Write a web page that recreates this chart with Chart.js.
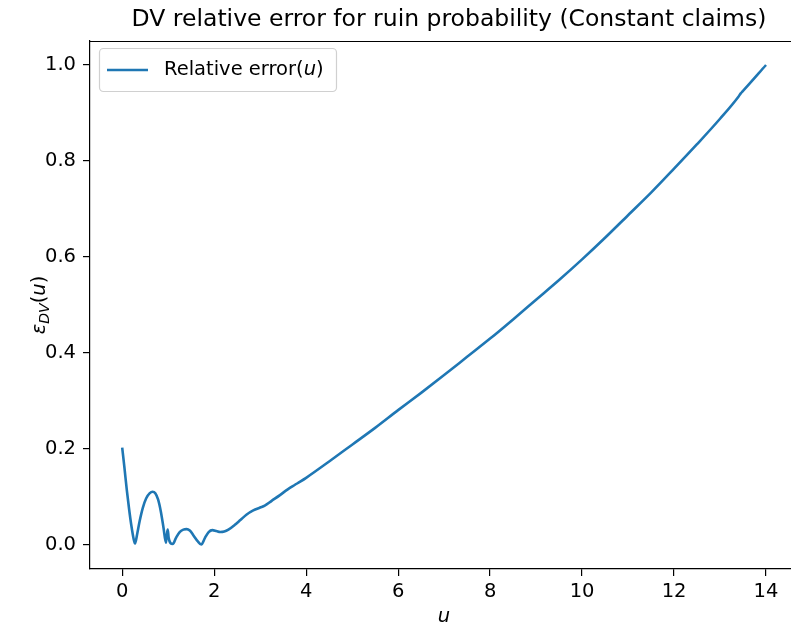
<!DOCTYPE html>
<html lang="en">
<head>
    <meta charset="UTF-8">
    <title>DV relative error for ruin probability</title>
    <script src="https://cdn.jsdelivr.net/npm/chart.js"></script>
    <style>
        body {
            margin: 0;
            background: white;
        }
        #wrap {
            width: 791px;
            height: 629px;
        }
    </style>
</head>
<body>
    <div id="wrap"><canvas id="errChart" width="791" height="629"></canvas></div>

    <script>
        // values
        const uValues = [
            0, 0.05, 0.1, 0.15, 0.2, 0.25, 0.28, 0.32, 0.38, 0.45, 0.52, 0.6, 0.66, 0.72, 0.78, 0.84, 0.9, 0.95,
            0.97, 0.99, 1.01, 1.05, 1.1, 1.17, 1.25, 1.33, 1.4, 1.47, 1.55, 1.64, 1.72, 1.8, 1.88, 1.96,
            2.05, 2.13, 2.22, 2.31, 2.45, 2.57, 2.7, 2.85, 3.0, 3.1, 3.25, 3.43, 3.6, 3.75, 3.87, 4.0,
            4.5, 5, 5.5, 6, 6.5, 7, 7.5, 8, 8.5, 9, 9.5, 10, 10.5, 11, 11.5, 12, 12.5, 13, 13.4, 13.45, 13.5, 14
        ];
        const errValues = [
            0.203, 0.16, 0.115, 0.075, 0.04, 0.012, 0.003, 0.02, 0.05, 0.078, 0.097, 0.108, 0.111, 0.108, 0.095, 0.07, 0.035, 0.005,
            0.02, 0.032, 0.015, 0.004, 0.002, 0.015, 0.027, 0.032, 0.033, 0.03, 0.02, 0.008, 0.001, 0.015, 0.027, 0.031,
            0.029, 0.027, 0.028, 0.032, 0.042, 0.052, 0.063, 0.072, 0.078, 0.082, 0.092, 0.104, 0.116, 0.125, 0.132, 0.14,
            0.174, 0.209, 0.244, 0.281, 0.317, 0.354, 0.392, 0.43, 0.47, 0.511, 0.552, 0.595, 0.64, 0.687, 0.734, 0.784, 0.835, 0.888, 0.934, 0.941, 0.946, 1.0
        ];
        const xTicks = [0, 2, 4, 6, 8, 10, 12, 14];
        const yTicks = [0, 0.2, 0.4, 0.6, 0.8, 1.0];

        const FONT = "'DejaVu Sans', sans-serif";
        const BLUE = '#1f77b4';

        // title, axis labels, legend and top spine
        const extras = {
            id: 'extras',
            afterDraw(chart) {
                const ctx = chart.ctx;
                const a = chart.chartArea;
                const cx = (a.left + a.right + 7) / 2;
                ctx.save();

                // top spine (right spine falls outside the picture)
                ctx.strokeStyle = '#000';
                ctx.lineWidth = 1.2;
                ctx.beginPath();
                ctx.moveTo(a.left, a.top + 0.5);
                ctx.lineTo(a.right, a.top + 0.5);
                ctx.stroke();

                // title
                ctx.fillStyle = '#000';
                ctx.font = '23.5px ' + FONT;
                ctx.textAlign = 'center';
                ctx.textBaseline = 'middle';
                ctx.fillText('DV relative error for ruin probability (Constant claims)', cx + 5, 20);

                // x label
                ctx.font = 'italic 19.5px ' + FONT;
                ctx.fillText('u', cx, 617);

                // y label: eps_DV(u)
                ctx.translate(38, (a.top + a.bottom) / 2);
                ctx.rotate(-Math.PI / 2);
                ctx.textAlign = 'left';
                ctx.textBaseline = 'alphabetic';
                const parts = [
                    { t: 'ε', f: 'italic 19.5px ', dy: 0 },
                    { t: 'DV', f: 'italic 14px ', dy: 4 },
                    { t: '(', f: '19.5px ', dy: 0 },
                    { t: 'u', f: 'italic 19.5px ', dy: 0 },
                    { t: ')', f: '19.5px ', dy: 0 }
                ];
                let total = 0;
                parts.forEach(p => { ctx.font = p.f + FONT; p.w = ctx.measureText(p.t).width; total += p.w; });
                let px = -total / 2;
                parts.forEach(p => {
                    ctx.font = p.f + FONT;
                    ctx.fillText(p.t, px, 7 + p.dy);
                    px += p.w;
                });
                ctx.setTransform(1, 0, 0, 1, 0, 0);

                // legend
                const bx = 99.5, by = 48.5, bw = 237, bh = 43;
                ctx.fillStyle = 'rgba(255,255,255,0.8)';
                ctx.strokeStyle = '#d0d0d0';
                ctx.lineWidth = 1.2;
                ctx.beginPath();
                ctx.roundRect(bx, by, bw, bh, 4);
                ctx.fill();
                ctx.stroke();
                ctx.strokeStyle = BLUE;
                ctx.lineWidth = 2.6;
                ctx.beginPath();
                ctx.moveTo(107, 70);
                ctx.lineTo(148, 70);
                ctx.stroke();
                ctx.fillStyle = '#000';
                ctx.textBaseline = 'middle';
                ctx.font = '19.5px ' + FONT;
                let lx = 164;
                ctx.fillText('Relative error(', lx, 70);
                lx += ctx.measureText('Relative error(').width;
                ctx.font = 'italic 19.5px ' + FONT;
                ctx.fillText('u', lx, 70);
                lx += ctx.measureText('u').width;
                ctx.font = '19.5px ' + FONT;
                ctx.fillText(')', lx, 70);

                ctx.restore();
            }
        };

        new Chart(document.getElementById('errChart').getContext('2d'), {
            type: 'line',
            data: {
                datasets: [{
                    label: 'Relative error(u)',
                    data: uValues.map((u, i) => ({ x: u, y: errValues[i] })),
                    borderColor: BLUE,
                    borderWidth: 2.6,
                    pointRadius: 0,
                    fill: false,
                    tension: 0,
                    cubicInterpolationMode: 'monotone'
                }]
            },
            options: {
                responsive: false,
                animation: false,
                devicePixelRatio: 1,
                layout: { padding: { top: 41, left: 0, right: 0, bottom: 0 } },
                plugins: {
                    legend: { display: false },
                    title: { display: false },
                    tooltip: { enabled: false }
                },
                scales: {
                    x: {
                        type: 'linear',
                        min: -0.7,
                        max: 14.543,
                        afterFit(scale) { scale.height = 60; },
                        afterBuildTicks(scale) { scale.ticks = xTicks.map(v => ({ value: v })); },
                        grid: { display: true, drawOnChartArea: false, drawTicks: true, tickLength: 7, lineWidth: 1.2, color: '#000' },
                        border: { display: true, color: '#000', width: 1.2 },
                        ticks: {
                            padding: 4,
                            color: '#000',
                            font: { family: FONT, size: 19.5 },
                            maxRotation: 0,
                            callback: v => String(v)
                        }
                    },
                    y: {
                        type: 'linear',
                        min: -0.05,
                        max: 1.05,
                        afterFit(scale) { scale.width = 90; },
                        afterBuildTicks(scale) { scale.ticks = yTicks.map(v => ({ value: v })); },
                        grid: { display: true, drawOnChartArea: false, drawTicks: true, tickLength: 7, lineWidth: 1.2, color: '#000' },
                        border: { display: true, color: '#000', width: 1.2 },
                        ticks: {
                            padding: 7,
                            color: '#000',
                            font: { family: FONT, size: 19.5 },
                            callback: v => v.toFixed(1)
                        }
                    }
                }
            },
            plugins: [extras]
        });
    </script>
</body>
</html>
